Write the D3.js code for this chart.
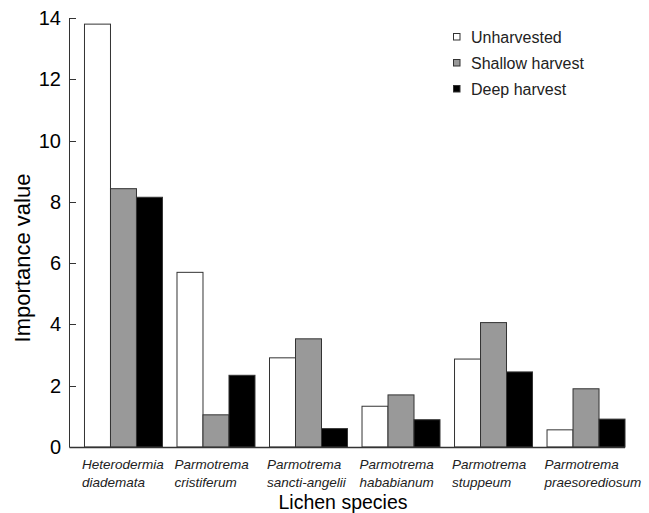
<!DOCTYPE html>
<html>
<head>
<meta charset="utf-8">
<script src="https://cdn.jsdelivr.net/npm/d3@7"></script>
<style>
body{margin:0;background:#fff;}
svg{display:block;font-family:"Liberation Sans",Arial,sans-serif;}
</style>
</head>
<body>
<script>
// data
const species=[["Heterodermia","diademata"],["Parmotrema","cristiferum"],["Parmotrema","sancti-angelii"],
  ["Parmotrema","hababianum"],["Parmotrema","stuppeum"],["Parmotrema","praesorediosum"]]
const seriesNames=["Unharvested","Shallow harvest","Deep harvest"]
const unharvested=[13.8,5.7,2.91,1.33,2.87,0.56]
const shallow=[8.43,1.05,3.53,1.70,4.06,1.90]
const deep=[8.15,2.34,0.60,0.89,2.45,0.91]
const yTicks=[0,2,4,6,8,10,12,14]

const w=649, h=513
const colors=["#ffffff","#999999","#000000"]
const values=[unharvested,shallow,deep]

const svg=d3.select("body").append("svg").attr("width",w).attr("height",h)

//scales
const x=d3.scaleBand().domain(d3.range(species.length)).range([69,639.5])
  .paddingInner(0.157).paddingOuter(0.162)
const xs=d3.scaleBand().domain(d3.range(3)).range([0,x.bandwidth()])
const y=d3.scaleLinear().domain([0,14]).range([447,18])

// bars
const groups=svg.selectAll("g.grp").data(species).enter().append("g")
  .attr("class","grp")
  .attr("transform",(d,i)=>"translate("+x(i)+",0)")
groups.selectAll("rect").data((d,i)=>values.map((v,k)=>({k:k,v:v[i]}))).enter().append("rect")
  .attr("x",d=>xs(d.k)+0.5)
  .attr("y",d=>y(d.v))
  .attr("width",xs.bandwidth())
  .attr("height",d=>y(0)-y(d.v))
  .attr("fill",d=>colors[d.k])
  .attr("stroke","#333")
  .attr("stroke-width",1)

// axes
svg.append("line").attr("x1",69.5).attr("x2",69.5).attr("y1",y(14)).attr("y2",y(0))
  .attr("stroke","#333")
svg.append("line").attr("x1",69.5).attr("x2",x(species.length-1)+x.bandwidth()+0.5)
  .attr("y1",y(0)+0.5).attr("y2",y(0)+0.5).attr("stroke","#333").attr("stroke-width",1.5)
svg.selectAll("line.tick").data(yTicks).enter().append("line")
  .attr("class","tick")
  .attr("x1",69.5).attr("x2",76)
  .attr("y1",d=>Math.round(y(d))+0.5).attr("y2",d=>Math.round(y(d))+0.5)
  .attr("stroke","#333")
svg.selectAll("text.ytick").data(yTicks).enter().append("text")
  .attr("class","ytick")
  .attr("x",61).attr("y",d=>y(d)+7)
  .attr("text-anchor","end")
  .style("font-size","20px")
  .text(d=>d)

// species labels
const lab=svg.selectAll("text.sp").data(species).enter().append("text")
  .attr("class","sp")
  .style("font-size","13.5px").style("font-style","italic").attr("fill","#222")
lab.selectAll("tspan").data(d=>d).enter().append("tspan")
  .attr("x",function(){return x(species.indexOf(d3.select(this.parentNode).datum()))-2})
  .attr("y",(d,i)=>469+i*18)
  .text(d=>d)

// axis titles
svg.append("text").attr("transform","translate(30,258) rotate(-90)")
  .attr("text-anchor","middle").style("font-size","22px").text("Importance value")
svg.append("text").attr("x",343).attr("y",509)
  .attr("text-anchor","middle").style("font-size","19.5px").text("Lichen species")

// legend
const leg=svg.selectAll("g.leg").data(seriesNames).enter().append("g")
  .attr("class","leg")
  .attr("transform",(d,i)=>"translate(453,"+(33+i*26)+")")
leg.append("rect").attr("x",0.5).attr("y",0.5).attr("width",6.5).attr("height",6.5)
  .attr("fill",(d,i)=>colors[i]).attr("stroke","#333")
leg.append("text").attr("x",18).attr("y",10).style("font-size","16px").attr("fill","#222").text(d=>d)
</script>
</body>
</html>
